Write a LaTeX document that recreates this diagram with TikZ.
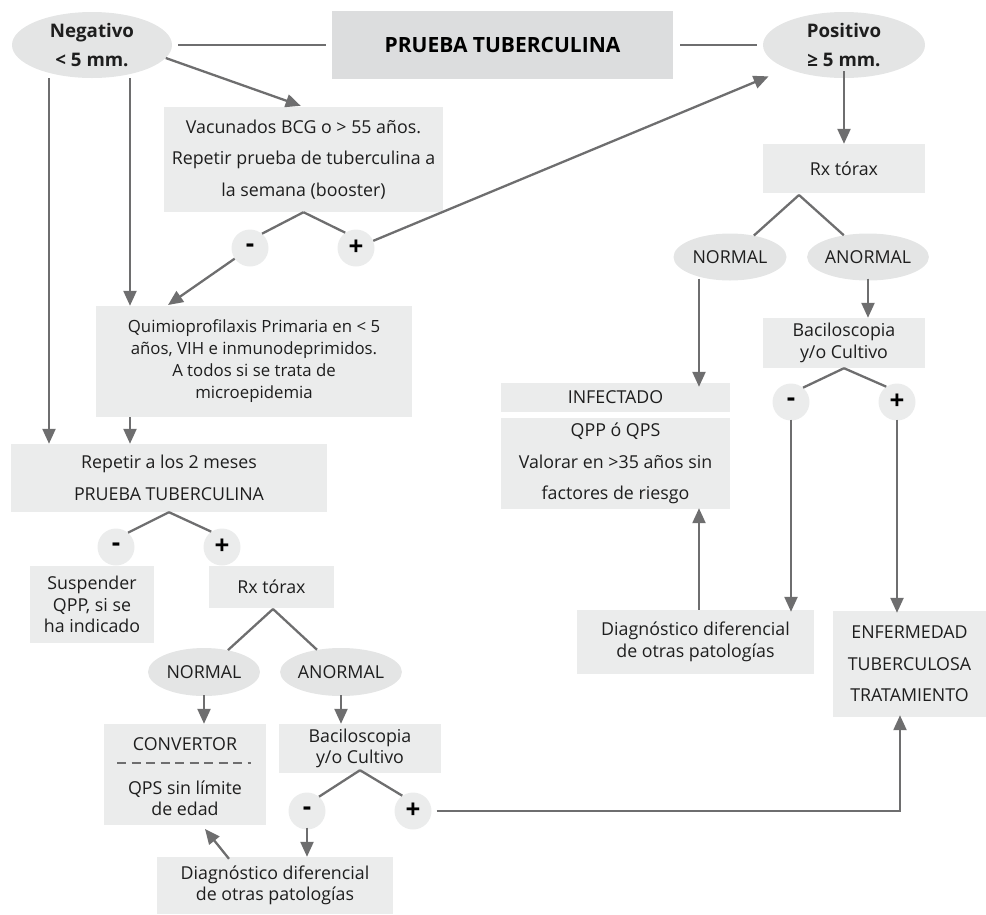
\documentclass[tikz,border=0pt]{standalone}
\usepackage{fontspec}
\setmainfont{Open Sans}
\usetikzlibrary{arrows.meta,shapes.geometric}
\definecolor{boxg}{HTML}{EBECEC}
\definecolor{ellg}{HTML}{E4E5E5}
\definecolor{titg}{HTML}{DCDDDE}
\definecolor{lineg}{HTML}{6E6E6F}
\definecolor{txtc}{HTML}{1E1E1E}
\newcommand\fsN{\fontsize{17.8}{21.5}\selectfont}
\newcommand\fsQ{\fontsize{16.8}{22}\selectfont}
\newcommand\fsW{\fontsize{17.8}{31.5}\selectfont}
\newcommand\fsB{\fontsize{18.7}{29}\selectfont\bfseries}
\tikzset{
  bx/.style={fill=boxg, inner sep=0pt, align=center, text=txtc, font=\fsN},
  bxw/.style={bx, font=\fsW},
  ell/.style={ellipse, fill=ellg, inner sep=0pt, align=center, text=txtc, font=\fsN},
  sgn/.style={circle, fill=boxg, inner sep=0pt, minimum size=37pt, text=black, font=\fontsize{26}{26}\selectfont\bfseries},
  ln/.style={draw=lineg, line width=2.3pt},
  arr/.style={ln, -{Triangle[length=15pt,width=13pt]}},
}
\begin{document}
\begin{tikzpicture}[x=1pt,y=-1pt]
\useasboundingbox (0,0) rectangle (986,914);
% top row
\node[ell, minimum width=160pt, minimum height=66pt, font=\fsB] (neg) at (92,45) {Negativo\\< 5 mm.};
\node[fill=titg, minimum width=341pt, minimum height=68pt, inner sep=0pt, text=black, font=\fontsize{21}{24}\selectfont\bfseries] (tit) at (502.5,45) {PRUEBA TUBERCULINA};
\node[ell, minimum width=162pt, minimum height=66pt, font=\fsB] (pos) at (844,45) {Positivo\\≥ 5 mm.};
\draw[ln] ([xshift=6pt]neg.east) -- ([xshift=-6pt]tit.west);
\draw[ln] ([xshift=7pt]tit.east) -- ([xshift=-6pt]pos.west);

% left branch
\node[bxw, minimum width=279pt, minimum height=105pt] (vac) at (303.5,159.5) {Vacunados BCG o > 55 años.\\Repetir prueba de tuberculina a\\la semana (booster)};
\node[sgn] (m1) at (250,248) {-};
\node[sgn] (p1) at (356,248) {+};
\draw[arr, shorten >=3pt] (neg.-10.6) -- (vac.north);
\draw[ln] (vac.south) -- (m1.50);
\draw[ln] (vac.south) -- (p1.125);
\draw[arr, shorten >=20pt] (p1) -- (pos);

\node[bx, font=\fsQ, minimum width=316pt, minimum height=111pt] (qui) at (254,361.5) {Quimioprofilaxis Primaria en < 5\\años, VIH e inmunodeprimidos.\\A todos si se trata de\\microepidemia};
\coordinate (qa) at (168,305);
\draw[arr] (m1) -- (qa);

\coordinate (xl) at (49,0);
\coordinate (xm) at (130,0);
\node[bxw, minimum width=316pt, minimum height=68pt] (rep) at (169,478) {Repetir a los 2 meses\\PRUEBA TUBERCULINA};
\draw[arr] (neg.south -| xl) -- (rep.north -| xl);
\draw[arr] (neg.south -| xm) -- (qui.north -| xm);
\draw[arr] (qui.south -| xm) -- (rep.north -| xm);

\node[sgn] (m2) at (116,547) {-};
\node[sgn] (p2) at (222,547) {+};
\draw[ln] (rep.south) -- (m2.50);
\draw[ln] (rep.south) -- (p2.125);

\node[bx, minimum width=124pt, minimum height=77pt] (sus) at (92,604.5) {Suspender\\QPP, si se\\ha indicado};
\node[bx, minimum width=125pt, minimum height=42pt] (rxl) at (271.5,587) {Rx tórax};
\node[ell, minimum width=112pt, minimum height=48pt] (nl) at (204,672) {NORMAL};
\node[ell, minimum width=113pt, minimum height=48pt] (al) at (341,672) {ANORMAL};
\coordinate (apl) at (273,609);
\draw[ln] (apl) -- (nl);
\draw[ln] (apl) -- (al);

\node[bx, minimum width=162pt, minimum height=101pt] (conv) at (185,774.5) {};
\node[bx] (convA) at (185,744) {CONVERTOR};
\draw[lineg, line width=2.2pt, dash pattern=on 9pt off 5.5pt] (117,763) -- (251,763);
\node[bx] (convB) at (185,798.5) {QPS sin límite\\de edad};
\draw[arr] ([yshift=1pt]nl.south) -- (conv.north -| nl.south);

\node[bx, minimum width=162pt, minimum height=49pt] (bl) at (360,748.5) {Baciloscopia\\y/o Cultivo};
\draw[arr] ([yshift=1pt]al.south) -- (bl.north -| al.south);
\node[sgn] (m4) at (307,811) {-};
\node[sgn] (p4) at (413,811) {+};
\draw[ln] ([yshift=3pt]bl.south) -- (m4.50);
\draw[ln] ([yshift=3pt]bl.south) -- (p4.125);

\node[bx, minimum width=236pt, minimum height=57pt] (dl) at (275,885.5) {Diagnóstico diferencial\\de otras patologías};
\draw[arr] ([yshift=2pt]m4.south) -- (dl.north -| m4.south);
\coordinate (dla) at (229,0);
\coordinate (cva) at (205,829);
\draw[arr] ([yshift=-2pt]dl.north -| dla) -- (cva);

% right branch
\node[bx, minimum width=162pt, minimum height=49pt] (rxr) at (844,168.5) {Rx tórax};
\draw[arr] ([yshift=7pt]pos.south) -- (rxr.north);
\node[ell, minimum width=113pt, minimum height=47pt] (nr) at (730,257) {NORMAL};
\node[ell, minimum width=113pt, minimum height=47pt] (ar) at (868,257) {ANORMAL};
\coordinate (apr) at (799,195);
\draw[ln] (apr) -- (nr);
\draw[ln] (apr) -- (ar);

\node[bx, minimum width=162pt, minimum height=50pt] (br) at (844,343) {Baciloscopia\\y/o Cultivo};
\draw[arr] ([yshift=2pt]ar.south) -- (br.north -| ar.south);
\node[sgn] (m3) at (791,402) {-};
\node[sgn] (p3) at (897,402) {+};
\draw[ln] (br.south) -- (m3.50);
\draw[ln] (br.south) -- (p3.125);

\node[bx, minimum width=229pt, minimum height=29pt] (inf) at (615.5,397.5) {INFECTADO};
\node[bxw, minimum width=229pt, minimum height=91pt] (qpp) at (615.5,463.5) {QPP ó QPS\\Valorar en >35 años sin\\factores de riesgo};
\coordinate (xn) at (699,0);
\draw[arr] ([yshift=2pt]nr.south -| xn) -- ([yshift=-4pt]inf.north -| xn);

\node[bx, minimum width=237pt, minimum height=64pt] (dr) at (695.5,642) {Diagnóstico diferencial\\de otras patologías};
\node[bxw, minimum width=153pt, minimum height=106pt] (enf) at (909.5,664) {ENFERMEDAD\\TUBERCULOSA\\TRATAMIENTO};
\draw[arr] (dr.north -| xn) -- ([yshift=1pt]qpp.south -| xn);
\draw[arr] ([yshift=1pt]m3.south) -- ([yshift=-2pt]dr.north -| m3.south);
\draw[arr] ([yshift=1pt]p3.south) -- ([yshift=-2pt]enf.north -| p3.south);

\coordinate (xe) at (900,0);
\draw[arr] ([xshift=5pt]p4.east) -| ([yshift=2pt]enf.south -| xe);
\end{tikzpicture}
\end{document}
